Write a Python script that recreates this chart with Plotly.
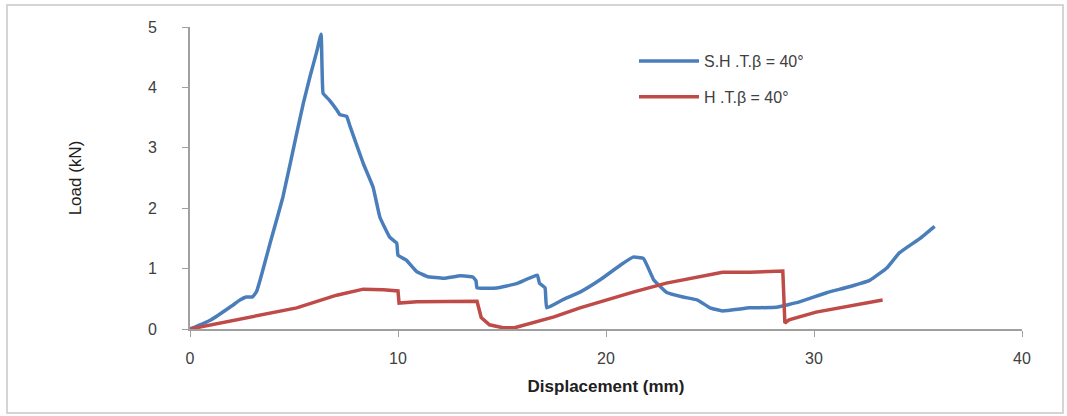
import plotly.graph_objects as go

sht_x = [0, 1.0, 2.0, 2.4, 2.7, 3.0, 3.2, 3.37, 3.6, 3.85, 4.47, 5.13, 5.45, 5.77, 6.1, 6.3, 6.35, 6.4, 6.7, 7.05, 7.2, 7.53, 7.7, 8.33, 8.8, 9.13, 9.6, 9.94, 10.0, 10.4, 10.9, 11.4, 12.2, 13.0, 13.6, 13.75, 13.8, 14.75, 15.7, 16.7, 16.8, 17.07, 17.15, 17.9, 18.75, 19.7, 20.7, 21.3, 21.8, 22.3, 22.9, 23.7, 24.4, 25.0, 25.6, 26.9, 28.2, 29.3, 30.6, 31.7, 32.7, 33.5, 34.1, 35.1, 35.8]
sht_y = [0, 0.15, 0.38, 0.48, 0.53, 0.53, 0.62, 0.81, 1.1, 1.42, 2.19, 3.24, 3.74, 4.18, 4.6, 4.88, 4.3, 3.9, 3.79, 3.63, 3.55, 3.52, 3.35, 2.74, 2.35, 1.85, 1.52, 1.42, 1.22, 1.14, 0.95, 0.87, 0.84, 0.88, 0.86, 0.8, 0.68, 0.68, 0.75, 0.89, 0.76, 0.68, 0.35, 0.48, 0.61, 0.81, 1.06, 1.19, 1.17, 0.81, 0.61, 0.53, 0.48, 0.35, 0.30, 0.35, 0.36, 0.45, 0.6, 0.7, 0.81, 1.01, 1.26, 1.5, 1.7]

ht_x = [0, 5.13, 7.05, 8.33, 9.3, 10.0, 10.05, 10.9, 13.8, 13.95, 14.0, 14.4, 15.05, 15.6, 16.5, 17.5, 18.75, 20.0, 21.3, 22.9, 24.5, 25.6, 26.9, 28.5, 28.6, 28.8, 30.1, 31.7, 32.8, 33.3]
ht_y = [0, 0.35, 0.56, 0.66, 0.65, 0.63, 0.43, 0.45, 0.46, 0.26, 0.19, 0.07, 0.02, 0.02, 0.1, 0.2, 0.35, 0.48, 0.61, 0.76, 0.86, 0.94, 0.94, 0.96, 0.1, 0.15, 0.28, 0.38, 0.45, 0.48]

series_names = ["S.H .T.β = 40°", "H .T.β = 40°"]
x_ticks = [0, 10, 20, 30, 40]
y_ticks = [0, 1, 2, 3, 4, 5]

fig = go.Figure()
fig.add_trace(go.Scatter(x=sht_x, y=sht_y, mode="lines", name=series_names[0], legendgroup="a",
                         line=dict(color="#4A7EBB", width=3.5, shape="spline", smoothing=0.3)))
fig.add_trace(go.Scatter(x=ht_x, y=ht_y, mode="lines", name=series_names[1], legendgroup="b",
                         line=dict(color="#BE4B48", width=3.5)))

W, H = 1067, 416
L, R, T, B = 190, 45, 27, 87
pw, ph = W - L - R, H - T - B

def px2paper_x(p):
    return (p - L) / pw

def px2paper_y(p):
    return (H - B - p) / ph

fig.update_layout(
    width=W, height=H,
    margin=dict(l=L, r=R, t=T, b=B),
    paper_bgcolor="white", plot_bgcolor="white",
    font=dict(family="Liberation Sans, Arial", color="#404040"),
    showlegend=True,
    legend=dict(x=px2paper_x(634), y=px2paper_y(44), xanchor="left", yanchor="top",
                font=dict(size=16, color="#404040"), bgcolor="rgba(0,0,0,0)",
                traceorder="grouped", tracegroupgap=12, itemwidth=60),
    xaxis=dict(range=[0, 40], tickvals=x_ticks, showgrid=False, zeroline=False,
               showline=True, linecolor="#A0A0A0", linewidth=2,
               ticks="outside", ticklen=6, tickcolor="#A0A0A0",
               tickfont=dict(size=16, color="#404040"), ticklabelstandoff=8,
               title=dict(text="<b>Displacement (mm)</b>", font=dict(size=17, color="#202020"), standoff=14)),
    yaxis=dict(range=[0, 5], tickvals=y_ticks, showgrid=False, zeroline=False,
               showline=True, linecolor="#A0A0A0", linewidth=2,
               ticks="outside", ticklen=6, tickcolor="#A0A0A0",
               tickfont=dict(size=16, color="#404040"), ticklabelstandoff=22,
               title=dict(text="Load (kN)", font=dict(size=17, color="#202020"), standoff=62)),
    shapes=[dict(type="rect", xref="paper", yref="paper",
                 x0=px2paper_x(7), x1=px2paper_x(1063), y0=px2paper_y(413), y1=px2paper_y(5),
                 line=dict(color="#C8C8C8", width=1.5), layer="below")],
)

fig.write_html("out.html")
